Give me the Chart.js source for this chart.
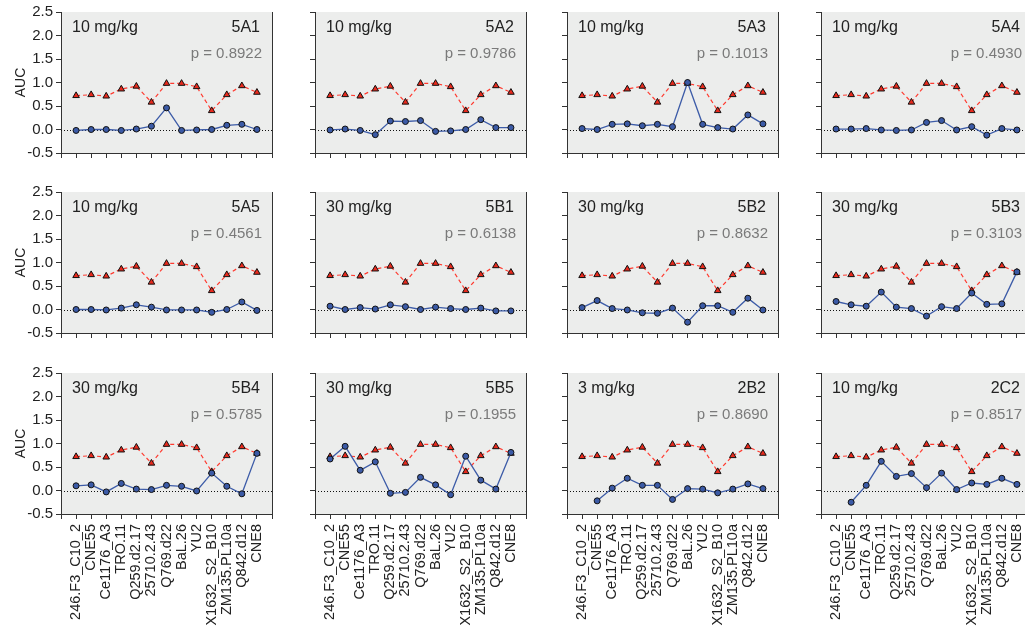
<!DOCTYPE html>
<html>
<head>
<meta charset="utf-8">
<script src="https://cdn.jsdelivr.net/npm/chart.js@4"></script>
<style>
  body { margin: 0; width: 1025px; height: 628px; overflow: hidden; background: #fff; position: relative; }
  canvas { position: absolute; }
</style>
</head>
<body>
<script>
const strains = ['246.F3_C10_2', 'CNE55', 'Ce1176_A3', 'TRO.11', 'Q259.d2.17', '25710.2.43',
  'Q769.d22', 'BaL.26', 'YU2', 'X1632_S2_B10', 'ZM135.PL10a', 'Q842.d12', 'CNE8'];

// reference AUC, identical in every panel (red triangles)
const controlAUC = [0.72, 0.74, 0.71, 0.86, 0.92, 0.58, 0.98, 0.98, 0.91, 0.40, 0.74, 0.93, 0.79];

// antibody AUC per strain (blue circles)
const auc5A1 = [-0.02, 0.00, 0.00, -0.02, 0.01, 0.07, 0.46, -0.02, -0.01, 0.00, 0.09, 0.11, 0.00];
const auc5A2 = [-0.01, 0.01, -0.02, -0.11, 0.18, 0.17, 0.19, -0.04, -0.03, 0.00, 0.21, 0.04, 0.04];
const auc5A3 = [0.02, 0.00, 0.11, 0.12, 0.08, 0.11, 0.06, 1.00, 0.11, 0.04, 0.01, 0.31, 0.12];
const auc5A4 = [0.01, 0.01, 0.02, -0.01, -0.02, -0.01, 0.15, 0.19, -0.01, 0.06, -0.12, 0.02, -0.01];
const auc5A5 = [0.00, 0.00, -0.01, 0.03, 0.10, 0.05, -0.01, -0.01, -0.01, -0.06, 0.00, 0.16, -0.02];
const auc5B1 = [0.07, 0.00, 0.04, 0.01, 0.10, 0.06, 0.00, 0.05, 0.02, 0.00, 0.03, -0.03, -0.03];
const auc5B2 = [0.04, 0.19, 0.02, -0.01, -0.07, -0.08, 0.03, -0.27, 0.08, 0.08, -0.06, 0.24, -0.01];
const auc5B3 = [0.17, 0.10, 0.07, 0.37, 0.05, 0.02, -0.14, 0.06, 0.02, 0.35, 0.11, 0.12, 0.80];
const auc5B4 = [0.10, 0.12, -0.03, 0.15, 0.03, 0.02, 0.11, 0.09, -0.01, 0.37, 0.09, -0.07, 0.79];
const auc5B5 = [0.67, 0.94, 0.43, 0.61, -0.06, -0.04, 0.28, 0.12, -0.09, 0.73, 0.22, 0.03, 0.81];
const auc2B2 = [null, -0.22, 0.05, 0.26, 0.11, 0.11, -0.19, 0.04, 0.03, -0.05, 0.03, 0.14, 0.04];
const auc2C2 = [null, -0.25, 0.11, 0.62, 0.30, 0.36, 0.06, 0.37, 0.02, 0.16, 0.13, 0.26, 0.13];

const antibodies = ['5A1', '5A2', '5A3', '5A4', '5A5', '5B1', '5B2', '5B3', '5B4', '5B5', '2B2', '2C2'];
const doses = ['10 mg/kg', '10 mg/kg', '10 mg/kg', '10 mg/kg', '10 mg/kg', '30 mg/kg',
  '30 mg/kg', '30 mg/kg', '30 mg/kg', '30 mg/kg', '3 mg/kg', '10 mg/kg'];
const pValues = ['0.8922', '0.9786', '0.1013', '0.4930', '0.4561', '0.6138',
  '0.8632', '0.3103', '0.5785', '0.1955', '0.8690', '0.8517'];
const panelSeries = [auc5A1, auc5A2, auc5A3, auc5A4, auc5A5, auc5B1, auc5B2, auc5B3, auc5B4, auc5B5, auc2B2, auc2C2];

const FONT = '"Liberation Sans", Arial, sans-serif';
const colX = [61, 315, 567, 821];
const rowY = [12, 192, 373];
const plotW = 212, plotH = 141;
const padTop = 10, padRight = 4, yAxisW = 61;

Chart.defaults.font.family = FONT;
Chart.defaults.color = '#222';

// grey plot background, dotted zero line, right frame and panel captions
const panelDeco = {
  id: 'panelDeco',
  beforeDraw(chart) {
    const { ctx, chartArea: a } = chart;
    ctx.save();
    ctx.fillStyle = '#ecedec';
    ctx.fillRect(a.left, a.top, a.right - a.left, a.bottom - a.top);
    ctx.restore();
  },
  beforeDatasetsDraw(chart) {
    const { ctx, chartArea: a, scales } = chart;
    const y0 = Math.round(scales.y.getPixelForValue(0)) + 0.5;
    ctx.save();
    ctx.strokeStyle = '#111';
    ctx.lineWidth = 1;
    ctx.setLineDash([1, 2]);
    ctx.beginPath();
    ctx.moveTo(a.left, y0);
    ctx.lineTo(a.right, y0);
    ctx.stroke();
    ctx.restore();
  },
  afterDraw(chart, args, opts) {
    const { ctx, chartArea: a } = chart;
    const xr = Math.round(a.right) + 0.5;
    ctx.save();
    ctx.strokeStyle = '#333';
    ctx.lineWidth = 1;
    ctx.beginPath();
    ctx.moveTo(xr, a.top);
    ctx.lineTo(xr, a.bottom);
    ctx.stroke();
    ctx.font = '16px ' + FONT;
    ctx.fillStyle = '#222';
    ctx.textAlign = 'left';
    ctx.fillText(opts.dose, a.left + 11, a.top + 20);
    ctx.textAlign = 'right';
    ctx.fillText(opts.name, a.right - 12, a.top + 20);
    ctx.font = '15px ' + FONT;
    ctx.fillStyle = '#7a7a7a';
    ctx.fillText('p = ' + opts.p, a.right - 10, a.top + 46);
    ctx.restore();
  }
};

antibodies.forEach((name, i) => {
  const r = Math.floor(i / 4), c = i % 4;
  const xAxisH = r === 2 ? 125 : 12;
  const canvas = document.createElement('canvas');
  canvas.width = yAxisW + plotW + padRight;
  canvas.height = padTop + plotH + xAxisH;
  canvas.style.left = (colX[c] - yAxisW) + 'px';
  canvas.style.top = (rowY[r] - padTop) + 'px';
  document.body.appendChild(canvas);

  new Chart(canvas.getContext('2d'), {
    type: 'line',
    data: {
      labels: ['', ...strains, ''],
      datasets: [{
        data: [null, ...panelSeries[i], null],
        borderColor: '#3d5ca8',
        borderWidth: 1.3,
        pointStyle: 'circle',
        pointRadius: 3,
        pointBackgroundColor: '#3b5aa6',
        pointBorderColor: '#111',
        pointBorderWidth: 1,
        tension: 0
      }, {
        data: [null, ...controlAUC, null],
        borderColor: '#ff3b30',
        borderWidth: 1.2,
        borderDash: [4, 3],
        pointStyle: 'triangle',
        pointRadius: 3.8,
        pointBackgroundColor: '#e8291c',
        pointBorderColor: '#111',
        pointBorderWidth: 1,
        tension: 0
      }]
    },
    options: {
      responsive: false,
      animation: false,
      devicePixelRatio: 1,
      layout: { padding: { top: padTop, right: padRight, left: 0, bottom: 0 } },
      plugins: {
        legend: { display: false },
        tooltip: { enabled: false },
        panelDeco: { dose: doses[i], name: name, p: pValues[i] }
      },
      scales: {
        x: {
          type: 'category',
          offset: false,
          grid: { drawOnChartArea: false, drawTicks: true, tickLength: 5, tickColor: '#333' },
          border: { color: '#333', width: 1 },
          ticks: {
            autoSkip: false,
            minRotation: 90,
            maxRotation: 90,
            padding: 5,
            color: '#222',
            font: { size: 14.5 },
            callback(v) { return r === 2 ? this.getLabelForValue(v) : ''; }
          },
          afterFit(s) { s.height = xAxisH; s.paddingLeft = 0; s.paddingRight = 0; }
        },
        y: {
          min: -0.5,
          max: 2.5,
          grid: { drawOnChartArea: false, drawTicks: true, tickLength: 5, tickColor: '#333' },
          border: { color: '#333', width: 1 },
          ticks: {
            stepSize: 0.5,
            padding: 3,
            color: '#222',
            font: { size: 15 },
            callback: v => c === 0 ? v.toFixed(1) : ''
          },
          title: {
            display: c === 0,
            text: 'AUC',
            color: '#222',
            font: { size: 14 },
            padding: { top: 13, bottom: 0 }
          },
          afterFit(s) { s.width = yAxisW; s.paddingTop = 0; s.paddingBottom = 0; }
        }
      }
    },
    plugins: [panelDeco]
  });
});
</script>
</body>
</html>
